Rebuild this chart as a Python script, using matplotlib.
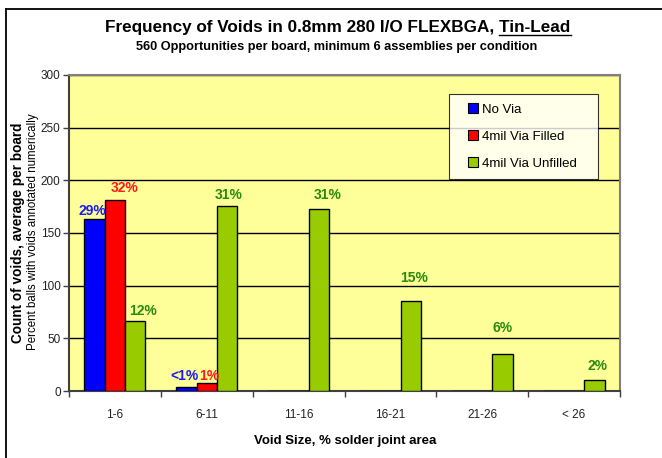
import numpy as np
import matplotlib.pyplot as plt
from matplotlib.lines import Line2D

plt.rcParams['font.family'] = ['Liberation Sans', 'DejaVu Sans']

categories = ['1-6', '6-11', '11-16', '16-21', '21-26', '< 26']
no_via = [163, 3.5, 0.4, 0, 0, 0]
via_filled = [181, 7.3, 0.4, 0, 0.4, 0]
via_unfilled = [66.5, 175.5, 172.5, 85.5, 35, 10.5]
series_names = ['No Via', '4mil Via Filled', '4mil Via Unfilled']

# percent annotations: (series index, category index, text)
pct_labels = [(0, 0, '29%'), (1, 0, '32%'), (2, 0, '12%'),
              (0, 1, '<1%'), (1, 1, '1%'), (2, 1, '31%'),
              (2, 2, '31%'), (2, 3, '15%'), (2, 4, '6%'), (2, 5, '2%')]
# hand placed offsets in pixels (dx, dy) like the original sheet
label_offsets = [(-2, 8), (10, 12), (8, 10), (-2, 11), (2, 7), (2, 11),
                 (9, 14), (3, 23), (0, 26), (3, 14)]

bar_colors = ['#0000FF', '#FF0000', '#99CC00']
text_colors = ['#1a1aff', '#ff1a1a', '#2a8a10']

W, H = 662, 458
fig = plt.figure(figsize=(W / 100, H / 100), dpi=100)
ax = fig.add_axes([69 / W, (H - 391) / H, (620 - 69) / W, (391 - 75) / H])
ax.set_facecolor('#FFFF99')

x = np.arange(len(categories))
bw = 0.221
data = [no_via, via_filled, via_unfilled]
for i, vals in enumerate(data):
    ax.bar(x + (i - 1) * bw, vals, bw, color=bar_colors[i], edgecolor='black',
           linewidth=1.0, zorder=3)

for (si, ci, txt), (dx, dy) in zip(pct_labels, label_offsets):
    ax.annotate(txt, (x[ci] + (si - 1) * bw, data[si][ci]), xytext=(dx, dy),
                textcoords='offset pixels', ha='center', va='center',
                fontsize=10, fontweight='bold', color=text_colors[si], zorder=4)

ax.set_ylim(0, 300)
ax.set_xlim(-0.5, len(categories) - 0.5)
ax.set_yticks(np.arange(0, 301, 50))
ax.yaxis.grid(True, color='black', linewidth=1.0, zorder=1)
ax.set_axisbelow(True)
ax.tick_params(axis='y', direction='out', length=4, width=1, color='#404040',
               labelsize=8.5, labelcolor='#222222', pad=2)

ax.set_xticks(np.arange(-0.5, len(categories)), minor=False)
ax.set_xticklabels([])
ax.set_xticks(x, minor=True)
ax.set_xticklabels(categories, minor=True, fontsize=8.5, color='#222222')
ax.tick_params(axis='x', which='major', direction='out', length=4, width=1, color='#404040')
ax.tick_params(axis='x', which='minor', length=0, pad=13)

for s in ['left', 'bottom']:
    ax.spines[s].set_color('#404040')
    ax.spines[s].set_linewidth(1.5)
for s in ['top', 'right']:
    ax.spines[s].set_color('#808080')
    ax.spines[s].set_linewidth(1.5)

handles = [Line2D([0], [0], marker='s', linestyle='none', markersize=7,
                  markerfacecolor=c, markeredgecolor='black', markeredgewidth=0.8)
           for c in bar_colors]
leg = fig.legend(handles, series_names, loc='upper left',
                 bbox_to_anchor=(449 / W, 1 - 178 / H, 149 / W, 84 / H), mode='expand',
                 frameon=True, fancybox=False, edgecolor='black', fontsize=9.5,
                 labelspacing=1.12, handlelength=2.2, handletextpad=-0.4,
                 borderpad=0.72, borderaxespad=0)
leg.get_frame().set_linewidth(0.8)
leg.set_zorder(5)

fig.text(18 / W, 1 - 233 / H, 'Count of voids, average per board', rotation=90,
         ha='center', va='center', fontsize=9.8, fontweight='bold')
fig.text(33 / W, 1 - 232 / H, 'Percent balls with voids annotated numerically',
         rotation=90, ha='center', va='center', fontsize=8.3)
fig.text(345 / W, 1 - 444 / H, 'Void Size, % solder joint area', ha='center',
         va='baseline', fontsize=9.5, fontweight='bold')

# title with underlined last part
title_main = 'Frequency of Voids in 0.8mm 280 I/O FLEXBGA, '
title_ul = 'Tin-Lead'
t_full = fig.text(338 / W, 1 - 32 / H, title_main + title_ul, ha='center',
                  va='baseline', fontsize=12.3, fontweight='bold')
fig.text(337 / W, 1 - 50 / H, '560 Opportunities per board, minimum 6 assemblies per condition',
         ha='center', va='baseline', fontsize=9.2, fontweight='bold')
fig.canvas.draw()
r = fig.canvas.get_renderer()
bb = t_full.get_window_extent(r)
tmp = fig.text(0, 0, title_ul, fontsize=12.3, fontweight='bold')
wul = tmp.get_window_extent(r).width
tmp.remove()
uy = (H - 34.5)
fig.add_artist(Line2D([(bb.x1 - wul) / W, bb.x1 / W], [uy / H, uy / H],
                      color='black', linewidth=1.0, transform=fig.transFigure))

# sheet frame (left and top visible)
fig.add_artist(Line2D([6 / W, 6 / W], [0, 1 - 9 / H], color='black', linewidth=1.3,
                      transform=fig.transFigure))
fig.add_artist(Line2D([6 / W, 1], [1 - 9 / H, 1 - 9 / H], color='black', linewidth=1.3,
                      transform=fig.transFigure))

fig.savefig('out.png', dpi=100)
